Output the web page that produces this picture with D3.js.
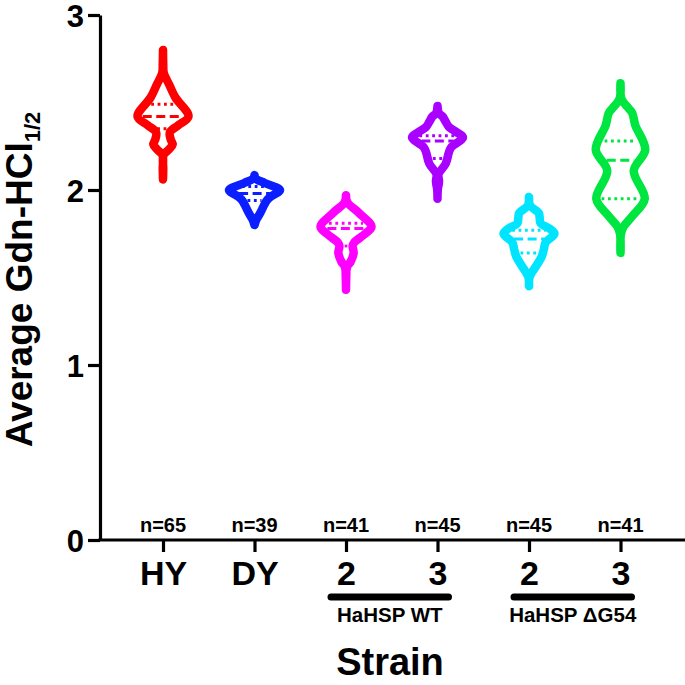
<!DOCTYPE html>
<html>
<head>
<meta charset="utf-8">
<script src="https://cdn.jsdelivr.net/npm/d3@7"></script>
<style>
  body { margin: 0; background: #fff; }
  text { font-family: "Liberation Sans", Arial, sans-serif; font-weight: bold; fill: #000; }
</style>
</head>
<body>
<svg id="chart"></svg>
<script>
// strains on the x axis
const categories = ["HY", "DY", "WT2", "WT3", "DG2", "DG3"];
const tickLabels = ["HY", "DY", "2", "3", "2", "3"];
const nLabels = ["n=65", "n=39", "n=41", "n=45", "n=45", "n=41"];
const colors = ["#ff0000", "#0a1eff", "#ff00ff", "#aa00ff", "#00e5ff", "#00e640"];

// violin outlines: [value, relative half width]
const hyProfile = [[2.80, 0], [2.72, 0.01], [2.67, 0.03], [2.60, 0.25], [2.53, 0.48], [2.42, 1.0],
  [2.37, 0.6], [2.33, 0.27], [2.29, 0.3], [2.26, 0.38], [2.23, 0.22], [2.20, 0.02], [2.12, 0.01], [2.06, 0]];
const dyProfile = [[2.085, 0], [2.065, 0.05], [2.04, 0.4], [2.00, 1.0], [1.96, 0.62], [1.94, 0.48],
  [1.87, 0.23], [1.83, 0.07], [1.80, 0]];
const wt2Profile = [[1.97, 0], [1.93, 0.05], [1.87, 0.5], [1.79, 1.0], [1.75, 0.75], [1.70, 0.32],
  [1.68, 0.26], [1.64, 0.3], [1.59, 0.18], [1.56, 0.04], [1.50, 0.01], [1.43, 0]];
const wt3Profile = [[2.48, 0], [2.44, 0.05], [2.42, 0.2], [2.39, 0.32], [2.36, 0.45], [2.33, 0.75],
  [2.30, 1.0], [2.24, 0.52], [2.15, 0.32], [2.09, 0.04], [2.05, 0.06], [2.00, 0.01], [1.95, 0]];
const dg2Profile = [[1.96, 0], [1.91, 0.05], [1.87, 0.38], [1.84, 0.42], [1.81, 0.45], [1.78, 0.8],
  [1.75, 1.0], [1.70, 0.65], [1.66, 0.58], [1.62, 0.5], [1.57, 0.3], [1.53, 0.12], [1.50, 0.02], [1.45, 0]];
const dg3Profile = [[2.61, 0], [2.52, 0.04], [2.47, 0.3], [2.44, 0.46], [2.37, 0.58], [2.23, 0.97],
  [2.11, 0.52], [1.95, 0.95], [1.85, 0.46], [1.79, 0.12], [1.75, 0.02], [1.64, 0]];
const profiles = [hyProfile, dyProfile, wt2Profile, wt3Profile, dg2Profile, dg3Profile];

// quartile lines
const upperQuartiles = [2.49, 2.02, 1.81, 2.31, 1.77, 2.28];
const medians = [2.42, 1.98, 1.78, 2.28, 1.72, 2.17];
const lowerQuartiles = [2.35, 1.94, 1.68, 2.18, 1.64, 1.95];

const yTicks = [0, 1, 2, 3];
const groups = [
  { label: "HaHSP WT", from: "WT2", to: "WT3" },
  { label: "HaHSP \u0394G54", from: "DG2", to: "DG3" }
];

const width = 685, height = 685;
const margin = { left: 100, top: 15, bottom: 145 };
const strokeW = 8.5;

const svg = d3.select("#chart").attr("width", width).attr("height", height);

const x = d3.scalePoint().domain(categories).range([163, 620.5]);
const y = d3.scaleLinear().domain([0, 3]).range([height - margin.bottom, margin.top]);
const w = d3.scaleLinear().domain([0, 1]).range([0, 25.5]);

// Y axis
const yAxis = svg.append("g")
  .attr("transform", `translate(${margin.left},0)`)
  .call(d3.axisLeft(y).tickValues(yTicks).tickFormat(d3.format("d")).tickSize(12).tickSizeOuter(0).tickPadding(4));
yAxis.select(".domain").attr("stroke-width", 3.2);
yAxis.selectAll(".tick line").attr("stroke-width", 3.2);
yAxis.selectAll(".tick text").style("font-size", "31px").attr("dy", "0.36em");

// X axis
const xAxis = svg.append("g")
  .attr("transform", `translate(0,${y(0)})`)
  .call(d3.axisBottom(x).tickFormat((d, i) => tickLabels[i]).tickSize(12).tickPadding(9));
xAxis.select(".domain").remove();
xAxis.append("line")
  .attr("x1", margin.left - 1.6).attr("x2", width + 5)
  .attr("stroke", "#000").attr("stroke-width", 3.2);
xAxis.selectAll(".tick line").attr("stroke-width", 3.2);
xAxis.selectAll(".tick text").style("font-size", "34px");

// n counts
svg.selectAll(".nlab")
  .data(categories)
  .join("text")
  .attr("class", "nlab")
  .attr("x", d => x(d))
  .attr("y", y(0) - 8)
  .attr("text-anchor", "middle")
  .style("font-size", "20px")
  .text((d, i) => nLabels[i]);

// group bars
groups.forEach(g => {
  const x1 = x(g.from) - 15, x2 = x(g.to) + 11;
  svg.append("line")
    .attr("x1", x1).attr("x2", x2)
    .attr("y1", 597).attr("y2", 597)
    .attr("stroke", "#000").attr("stroke-width", 7).attr("stroke-linecap", "round");
  svg.append("text")
    .attr("x", (x1 + x2) / 2).attr("y", 622)
    .attr("text-anchor", "middle")
    .style("font-size", "20.5px")
    .text(g.label);
});

// violins
const area = d3.area()
  .curve(d3.curveCatmullRom)
  .y(d => y(d[0]));

function halfWidthAt(profile, v) {
  for (let i = 0; i < profile.length - 1; i++) {
    const a = profile[i], b = profile[i + 1];
    if (v <= a[0] && v >= b[0]) {
      const t = (a[0] - v) / (a[0] - b[0]);
      return w(a[1] + t * (b[1] - a[1]));
    }
  }
  return 0;
}

categories.forEach((c, i) => {
  const cx = x(c);
  const prof = profiles[i];
  svg.append("path")
    .datum(prof)
    .attr("d", area.x0(d => cx - w(d[1])).x1(d => cx + w(d[1])))
    .attr("fill", "none")
    .attr("stroke", colors[i])
    .attr("stroke-width", strokeW)
    .attr("stroke-linejoin", "round")
    .attr("stroke-linecap", "round");

  const lines = [
    { v: upperQuartiles[i], dash: "2.8,3.6" },
    { v: medians[i], dash: "9,4.5" },
    { v: lowerQuartiles[i], dash: "2.8,3.6" }
  ];
  lines.forEach(l => {
    const hw = Math.max(0, halfWidthAt(prof, l.v) - strokeW / 2 - 1);
    svg.append("line")
      .attr("x1", cx - hw).attr("x2", cx + hw)
      .attr("y1", y(l.v)).attr("y2", y(l.v))
      .attr("stroke", colors[i])
      .attr("stroke-width", 2.8)
      .attr("stroke-dasharray", l.dash);
  });
});

// axis titles
svg.append("text")
  .attr("x", 390).attr("y", 675)
  .attr("text-anchor", "middle")
  .style("font-size", "38px")
  .text("Strain");

const yTitle = svg.append("text")
  .attr("transform", `translate(32,${y(1.5) + 2}) rotate(-90)`)
  .attr("text-anchor", "middle")
  .style("font-size", "37px");
yTitle.append("tspan").text("Average Gdn-HCl");
yTitle.append("tspan").attr("dy", 8).style("font-size", "22px").text("1/2");
</script>
</body>
</html>
